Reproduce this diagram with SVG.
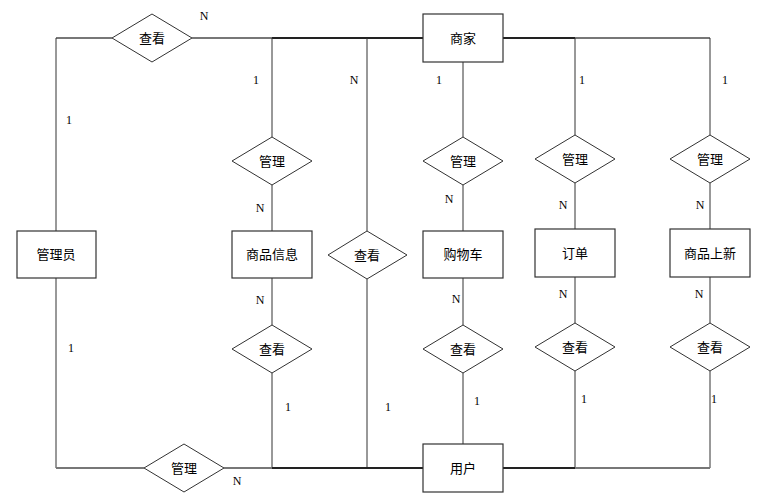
<svg xmlns="http://www.w3.org/2000/svg" width="773" height="499" viewBox="0 0 773 499">
<style>
.e{fill:#fff;stroke:#333;stroke-width:1.2}
.r{fill:#fff;stroke:#333;stroke-width:1}
.t{font-family:"Liberation Sans","Noto Sans CJK SC",sans-serif;font-size:13px;fill:#000;text-anchor:middle;dominant-baseline:central}
.l{font-family:"Liberation Serif",serif;font-size:12px;fill:#000;text-anchor:middle;dominant-baseline:central}
.c{fill:none;stroke:#333;stroke-width:1}
.h{fill:none;stroke:#222;stroke-width:2}
.g{fill:none;stroke:#777;stroke-width:2}
</style>
<rect width="773" height="499" fill="#fff"/>
<g id="connectors">
<path class="g" d="M56 38H112M192 38H272"/>
<path class="h" d="M272 38H423M503 38H575"/>
<path class="g" d="M575 38H710"/>
<path class="c" d="M56 38V231M56 278V468M272 38V137M272 185V231M272 278V325M272 373V468M367 38V231M367 279V468M463 62V137M463 185V231M463 278V325M463 373V444M575 38V135M575 183V229M575 277V323M575 371V468M710 38V135M710 183V229M710 277V323M710 371V468"/>
<path class="g" d="M56 468H144M224 468H272"/>
<path class="h" d="M272 468H423M503 468H575"/>
<path class="g" d="M575 468H710"/>
</g>
<g id="r_view_top"><polygon class="r" points="112,38 152,14 192,38 152,62"/><text class="t" x="152" y="38">查看</text></g>
<g id="merchant"><rect class="e" x="423" y="14" width="80" height="48"/><text class="t" x="463" y="38">商家</text></g>
<g id="admin"><rect class="e" x="17" y="231" width="79" height="47"/><text class="t" x="56" y="254">管理员</text></g>
<g id="goods_info"><rect class="e" x="232" y="231" width="80" height="47"/><text class="t" x="272" y="254">商品信息</text></g>
<g id="cart"><rect class="e" x="423" y="231" width="80" height="47"/><text class="t" x="463" y="254">购物车</text></g>
<g id="order"><rect class="e" x="535" y="229" width="80" height="48"/><text class="t" x="575" y="253">订单</text></g>
<g id="new_goods"><rect class="e" x="670" y="229" width="80" height="48"/><text class="t" x="710" y="253">商品上新</text></g>
<g id="user"><rect class="e" x="423" y="444" width="80" height="48"/><text class="t" x="463" y="468">用户</text></g>
<g id="r_manage_goods"><polygon class="r" points="232,161 272,137 312,161 272,185"/><text class="t" x="272" y="161">管理</text></g>
<g id="r_manage_cart"><polygon class="r" points="423,161 463,137 503,161 463,185"/><text class="t" x="463" y="161">管理</text></g>
<g id="r_manage_order"><polygon class="r" points="535,159 575,135 615,159 575,183"/><text class="t" x="575" y="159">管理</text></g>
<g id="r_manage_new"><polygon class="r" points="670,159 710,135 750,159 710,183"/><text class="t" x="710" y="159">管理</text></g>
<g id="r_view_mid"><polygon class="r" points="328,255 367,231 407,255 367,279"/><text class="t" x="367" y="255">查看</text></g>
<g id="r_view_goods"><polygon class="r" points="232,349 272,325 312,349 272,373"/><text class="t" x="272" y="349">查看</text></g>
<g id="r_view_cart"><polygon class="r" points="423,349 463,325 503,349 463,373"/><text class="t" x="463" y="349">查看</text></g>
<g id="r_view_order"><polygon class="r" points="535,347 575,323 615,347 575,371"/><text class="t" x="575" y="347">查看</text></g>
<g id="r_view_new"><polygon class="r" points="670,347 710,323 750,347 710,371"/><text class="t" x="710" y="347">查看</text></g>
<g id="r_manage_bottom"><polygon class="r" points="144,468 184,444 224,468 184,492"/><text class="t" x="184" y="468">管理</text></g>
<g id="labels">
<text class="l" x="204" y="16">N</text>
<text class="l" x="256" y="80">1</text>
<text class="l" x="69" y="120">1</text>
<text class="l" x="354" y="80">N</text>
<text class="l" x="439" y="80">1</text>
<text class="l" x="582" y="80">1</text>
<text class="l" x="725" y="80">1</text>
<text class="l" x="260" y="208">N</text>
<text class="l" x="449" y="199">N</text>
<text class="l" x="563" y="205">N</text>
<text class="l" x="700" y="205">N</text>
<text class="l" x="260" y="300">N</text>
<text class="l" x="456" y="299">N</text>
<text class="l" x="563" y="294">N</text>
<text class="l" x="699" y="294">N</text>
<text class="l" x="71" y="348">1</text>
<text class="l" x="288" y="407">1</text>
<text class="l" x="388" y="407">1</text>
<text class="l" x="477" y="401">1</text>
<text class="l" x="584" y="399">1</text>
<text class="l" x="714" y="399">1</text>
<text class="l" x="237" y="481">N</text>
</g>
</svg>
